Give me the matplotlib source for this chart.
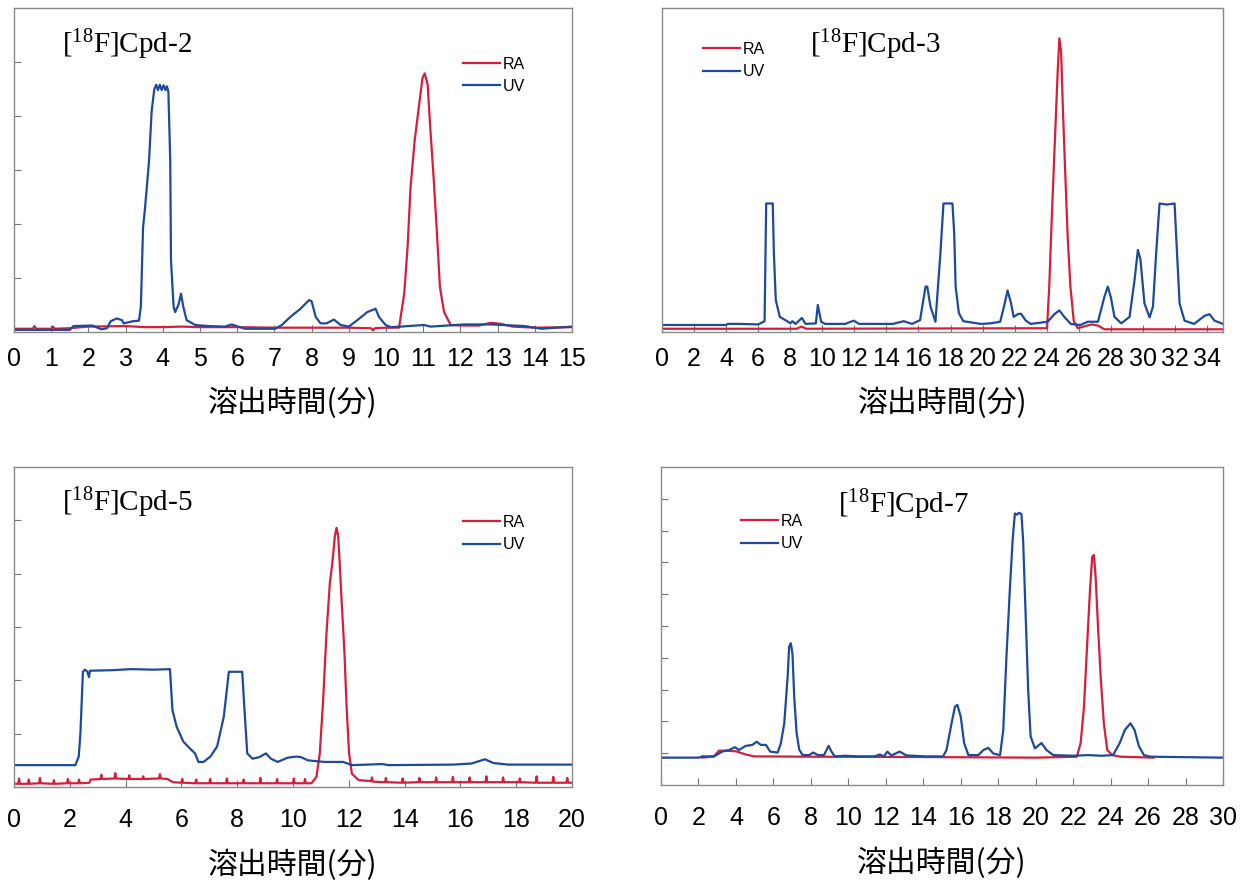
import numpy as np
import matplotlib
matplotlib.use("Agg")
import matplotlib.pyplot as plt

plt.rcParams['font.family'] = ['Liberation Sans', 'DejaVu Sans']
plt.rcParams['mathtext.default'] = 'regular'

RA_COLOR = '#d41f3c'
UV_COLOR = '#1d4a9a'

# ---------------- data: (time [min], signal [a.u.]) ----------------
# [18F]Cpd-2
cpd2_uv = [(0, 0.04), (1.5, 0.04), (1.6, 0.11), (2.1, 0.12), (2.35, 0.05), (2.5, 0.07), (2.6, 0.2),
           (2.76, 0.25), (2.9, 0.22), (2.95, 0.16), (3.2, 0.2), (3.36, 0.21), (3.41, 0.47), (3.47, 1.94),
           (3.52, 2.28), (3.57, 2.68), (3.63, 3.17), (3.70, 4.09), (3.77, 4.49), (3.82, 4.58), (3.87, 4.48),
           (3.92, 4.58), (3.97, 4.48), (4.02, 4.57), (4.07, 4.48), (4.11, 4.55), (4.15, 4.45), (4.20, 3.17),
           (4.22, 1.33), (4.29, 0.47), (4.33, 0.37), (4.42, 0.5), (4.49, 0.71), (4.55, 0.47), (4.64, 0.22),
           (4.87, 0.13), (5.22, 0.11), (5.67, 0.1), (5.85, 0.14), (6.03, 0.1), (6.21, 0.06), (7.02, 0.06),
           (7.2, 0.13), (7.43, 0.28), (7.70, 0.43), (7.93, 0.59), (8.0, 0.57), (8.11, 0.28), (8.24, 0.16),
           (8.4, 0.16), (8.6, 0.23), (8.78, 0.13), (9.0, 0.1), (9.23, 0.22), (9.5, 0.37), (9.72, 0.43),
           (9.81, 0.28), (9.99, 0.13), (10.13, 0.09), (10.4, 0.1), (11.02, 0.13), (11.2, 0.1), (11.65, 0.12),
           (12.1, 0.14), (12.82, 0.14), (13.72, 0.11), (14.17, 0.06), (15.0, 0.1)]
cpd2_ra = [(0, 0.06), (0.5, 0.06), (0.55, 0.11), (0.6, 0.06), (1.0, 0.06), (1.05, 0.1), (1.1, 0.06),
           (1.5, 0.07), (2.0, 0.1), (3.0, 0.11), (3.5, 0.09), (4.0, 0.09), (4.5, 0.1), (5.0, 0.09),
           (6.0, 0.09), (7.0, 0.08), (8.0, 0.08), (9.0, 0.08), (9.6, 0.07), (9.65, 0.03), (9.7, 0.07),
           (10.0, 0.08), (10.35, 0.08), (10.49, 0.71), (10.58, 1.57), (10.66, 2.68), (10.77, 3.54),
           (10.89, 4.21), (10.98, 4.70), (11.04, 4.79), (11.12, 4.58), (11.19, 3.78), (11.28, 2.86),
           (11.37, 1.82), (11.45, 0.83), (11.56, 0.37), (11.74, 0.13), (12.0, 0.12), (12.5, 0.12),
           (12.82, 0.17), (13.1, 0.15), (13.4, 0.1), (14.0, 0.08), (15.0, 0.09)]

# [18F]Cpd-3
cpd3_uv = [(0, 0.13), (4.0, 0.13), (4.1, 0.15), (4.9, 0.15), (6.0, 0.14), (6.4, 0.2), (6.5, 2.38),
           (6.91, 2.38), (6.98, 1.46), (7.1, 0.59), (7.35, 0.28), (7.87, 0.19), (8.0, 0.16), (8.13, 0.2),
           (8.33, 0.15), (8.73, 0.26), (8.95, 0.15), (9.6, 0.16), (9.72, 0.5), (9.93, 0.19), (10.18, 0.15),
           (11.43, 0.15), (11.96, 0.21), (12.3, 0.15), (14.4, 0.15), (15.08, 0.2), (15.6, 0.15), (16.1, 0.22),
           (16.44, 0.84), (16.55, 0.84), (16.75, 0.47), (17.06, 0.19), (17.37, 1.46), (17.56, 2.38),
           (18.12, 2.38), (18.23, 1.83), (18.32, 0.84), (18.52, 0.35), (18.8, 0.2), (19.9, 0.15),
           (20.5, 0.16), (21.1, 0.19), (21.39, 0.54), (21.56, 0.77), (21.77, 0.54), (21.94, 0.28),
           (22.2, 0.33), (22.39, 0.34), (22.7, 0.21), (23.0, 0.15), (24.06, 0.19), (24.48, 0.33),
           (24.79, 0.4), (25.1, 0.28), (25.5, 0.15), (26.1, 0.13), (26.56, 0.19), (27.2, 0.19),
           (27.6, 0.65), (27.81, 0.84), (28.0, 0.65), (28.23, 0.28), (28.65, 0.16), (29.17, 0.28),
           (29.48, 0.96), (29.69, 1.52), (29.85, 1.34), (30.1, 0.53), (30.42, 0.27), (30.63, 0.47),
           (30.83, 1.46), (31.04, 2.38), (31.5, 2.36), (31.98, 2.38), (32.08, 1.77), (32.29, 0.53),
           (32.6, 0.21), (33.2, 0.15), (33.85, 0.3), (34.16, 0.33), (34.47, 0.21), (35.0, 0.15)]
cpd3_ra = [(0, 0.06), (8.4, 0.06), (8.7, 0.1), (9.0, 0.06), (24.02, 0.07), (24.16, 0.84), (24.31, 2.07),
           (24.48, 3.31), (24.58, 4.05), (24.69, 4.85), (24.79, 5.44), (24.9, 5.19), (25.0, 4.23),
           (25.15, 3.0), (25.31, 1.76), (25.48, 0.84), (25.69, 0.2), (25.94, 0.07), (26.3, 0.1),
           (26.8, 0.14), (27.2, 0.12), (27.6, 0.05), (35.0, 0.05)]

# [18F]Cpd-5
cpd5_uv = [(0, 0.41), (2.2, 0.41), (2.32, 0.57), (2.38, 1.0), (2.47, 2.16), (2.54, 2.2), (2.62, 2.17),
           (2.69, 2.06), (2.72, 2.18), (3.5, 2.19), (4.2, 2.21), (5.0, 2.2), (5.59, 2.21), (5.68, 1.44),
           (5.83, 1.13), (6.07, 0.85), (6.31, 0.72), (6.49, 0.63), (6.61, 0.47), (6.79, 0.47), (7.04, 0.57),
           (7.28, 0.76), (7.52, 1.32), (7.70, 2.16), (8.18, 2.16), (8.24, 1.63), (8.36, 0.63), (8.55, 0.53),
           (8.79, 0.56), (9.03, 0.63), (9.21, 0.53), (9.45, 0.47), (9.81, 0.55), (10.12, 0.57),
           (10.29, 0.56), (10.53, 0.5), (11.13, 0.47), (11.8, 0.47), (12.11, 0.41), (13.2, 0.43),
           (13.43, 0.41), (15.73, 0.42), (16.4, 0.44), (16.88, 0.52), (17.18, 0.45), (17.7, 0.42), (20.0, 0.42)]
cpd5_ra = [(0, 0.06), (0.15, 0.06), (0.18, 0.16), (0.21, 0.06), (0.5, 0.06), (0.53, 0.14), (0.56, 0.06),
           (0.9, 0.07), (0.93, 0.17), (0.96, 0.07), (1.4, 0.06), (1.43, 0.13), (1.46, 0.06), (1.9, 0.07),
           (1.93, 0.15), (1.96, 0.07), (2.3, 0.07), (2.33, 0.14), (2.36, 0.07), (2.7, 0.08), (2.75, 0.14),
           (3.1, 0.15), (3.13, 0.23), (3.16, 0.15), (3.6, 0.16), (3.63, 0.26), (3.66, 0.16), (4.1, 0.15),
           (4.13, 0.22), (4.16, 0.15), (4.6, 0.15), (4.63, 0.2), (4.66, 0.15), (5.2, 0.16), (5.23, 0.24),
           (5.26, 0.16), (5.5, 0.15), (5.7, 0.09), (6.0, 0.08), (6.03, 0.15), (6.06, 0.08), (6.5, 0.07),
           (6.53, 0.14), (6.56, 0.07), (7.0, 0.07), (7.03, 0.15), (7.06, 0.07), (7.6, 0.07), (7.63, 0.16),
           (7.66, 0.07), (8.2, 0.07), (8.23, 0.14), (8.26, 0.07), (8.8, 0.07), (8.83, 0.17), (8.86, 0.07),
           (9.4, 0.07), (9.43, 0.15), (9.46, 0.07), (10.0, 0.07), (10.03, 0.16), (10.06, 0.07), (10.4, 0.07),
           (10.43, 0.15), (10.46, 0.07), (10.66, 0.07), (10.84, 0.19), (10.96, 0.63), (11.08, 1.63),
           (11.2, 2.88), (11.32, 3.82), (11.41, 4.2), (11.5, 4.7), (11.56, 4.86), (11.62, 4.7), (11.68, 4.14),
           (11.74, 3.51), (11.84, 2.57), (11.92, 1.51), (12.01, 0.63), (12.11, 0.25), (12.35, 0.13),
           (12.8, 0.11), (12.83, 0.18), (12.86, 0.1), (13.3, 0.09), (13.33, 0.17), (13.36, 0.09), (13.9, 0.08),
           (13.93, 0.16), (13.96, 0.08), (14.5, 0.09), (14.53, 0.17), (14.56, 0.09), (15.1, 0.09),
           (15.13, 0.18), (15.16, 0.09), (15.7, 0.09), (15.73, 0.19), (15.76, 0.09), (16.3, 0.09),
           (16.33, 0.18), (16.36, 0.09), (16.9, 0.09), (16.93, 0.2), (16.96, 0.09), (17.5, 0.09),
           (17.53, 0.18), (17.56, 0.09), (18.1, 0.09), (18.13, 0.16), (18.16, 0.09), (18.7, 0.08),
           (18.73, 0.2), (18.76, 0.08), (19.3, 0.08), (19.33, 0.19), (19.36, 0.08), (19.8, 0.08),
           (19.83, 0.17), (19.86, 0.08), (20.0, 0.08)]

# [18F]Cpd-7
cpd7_uv = [(0, 0.86), (2.03, 0.86), (2.2, 0.9), (2.83, 0.9), (3.27, 1.05), (3.63, 1.1), (3.95, 1.19),
           (4.16, 1.1), (4.52, 1.23), (4.87, 1.26), (5.11, 1.36), (5.33, 1.26), (5.6, 1.26), (5.83, 1.05),
           (6.23, 1.02), (6.4, 1.32), (6.58, 1.94), (6.76, 3.4), (6.84, 4.35), (6.93, 4.46), (7.02, 4.11),
           (7.11, 2.78), (7.24, 1.63), (7.38, 1.11), (7.56, 0.94), (7.9, 0.94), (8.12, 1.02), (8.39, 0.94),
           (8.7, 0.94), (8.95, 1.23), (9.1, 1.05), (9.28, 0.9), (9.81, 0.92), (10.52, 0.9), (11.41, 0.9),
           (11.68, 0.96), (11.9, 0.9), (12.08, 1.05), (12.3, 0.93), (12.74, 1.05), (13.1, 0.93), (14.08, 0.9),
           (15.06, 0.9), (15.24, 1.1), (15.51, 1.94), (15.69, 2.46), (15.82, 2.52), (16.0, 2.15), (16.18, 1.32),
           (16.41, 0.94), (16.94, 0.94), (17.21, 1.1), (17.47, 1.17), (17.74, 0.99), (18.1, 0.94), (18.27, 1.73),
           (18.44, 4.03), (18.62, 6.13), (18.77, 7.7), (18.89, 8.54), (19.0, 8.5), (19.1, 8.56), (19.24, 8.52),
           (19.33, 7.7), (19.48, 5.08), (19.6, 2.99), (19.73, 1.53), (19.96, 1.15), (20.31, 1.32), (20.58, 1.1),
           (20.94, 0.94), (22.0, 0.92), (22.8, 0.94), (23.5, 0.92), (24.13, 0.94), (24.49, 1.32), (24.76, 1.73),
           (25.06, 1.94), (25.28, 1.73), (25.51, 1.22), (25.78, 0.94), (26.13, 0.89), (30.0, 0.86)]
cpd7_ra = [(2.2, 0.86), (2.83, 0.9), (3.09, 1.08), (3.45, 1.08), (4.0, 1.06), (4.52, 0.96), (4.97, 0.9),
           (8.0, 0.89), (14.0, 0.88), (20.0, 0.86), (22.2, 0.89), (22.4, 1.32), (22.58, 2.46), (22.76, 4.56),
           (22.9, 6.13), (23.02, 7.18), (23.11, 7.23), (23.2, 6.55), (23.32, 5.08), (23.47, 3.4), (23.64, 1.94),
           (23.82, 1.1), (24.09, 0.94), (24.53, 0.89), (26.3, 0.86)]

titles = ['[$^{18}$F]Cpd-2', '[$^{18}$F]Cpd-3', '[$^{18}$F]Cpd-5', '[$^{18}$F]Cpd-7']
xmax = [15, 35, 20, 30]
xstep = [1, 2, 2, 2]
xlast = [15, 34, 20, 30]
ymax = [6, 6, 6, 10]
show_yticks = [True, False, True, True]
xlabel = '溶出時間(分)'

# ---------------- layout (figure fractions) ----------------
W, H = 1251, 885
boxes = [(14, 8, 572, 332), (662, 8, 1223, 332), (14, 467, 572, 787), (661, 467, 1223, 785)]
title_pos = [(0.086, 0.886), (0.264, 0.886), (0.086, 0.887), (0.315, 0.88)]
legend_pos = [(0.805, 0.85), (0.073, 0.895), (0.805, 0.85), (0.142, 0.852)]
tick_pad = [11, 11, 15, 15]
label_pad = [12, 12, 13, 13]

fig = plt.figure(figsize=(W / 100, H / 100), dpi=100)

traces = [(cpd2_ra, cpd2_uv), (cpd3_ra, cpd3_uv), (cpd5_ra, cpd5_uv), (cpd7_ra, cpd7_uv)]

for i, (ra, uv) in enumerate(traces):
    x0, y0, x1, y1 = boxes[i]
    ax = fig.add_axes([x0 / W, 1 - y1 / H, (x1 - x0) / W, (y1 - y0) / H])
    ra = np.array(ra)
    uv = np.array(uv)
    ax.plot(ra[:, 0], ra[:, 1], color=RA_COLOR, lw=1.6, label='RA')
    ax.plot(uv[:, 0], uv[:, 1], color=UV_COLOR, lw=1.6, label='UV')
    ax.set_xlim(0, xmax[i])
    ax.set_ylim(0, ymax[i])

    ax.set_xticks(np.arange(0, xlast[i] + 0.1, xstep[i]))
    ax.tick_params(axis='x', direction='in', length=5, width=0.8, color='#777777',
                   labelsize=18, pad=tick_pad[i])
    if show_yticks[i]:
        ax.set_yticks(np.arange(1, ymax[i]))
    else:
        ax.set_yticks([])
    ax.tick_params(axis='y', direction='in', length=5, width=0.8, color='#777777', labelleft=False)

    for s in ax.spines.values():
        s.set_color('#8a8a8a')
        s.set_linewidth(1.0)

    ax.set_xlabel(xlabel, family=['Noto Sans CJK JP', 'DejaVu Sans'], fontsize=21.5,
                  labelpad=label_pad[i])
    ax.text(title_pos[i][0], title_pos[i][1], titles[i], transform=ax.transAxes,
            family='Liberation Serif', fontsize=21, va='center', ha='left')
    ax.legend(loc='upper left', bbox_to_anchor=legend_pos[i], frameon=False, fontsize=11.5,
              handlelength=2.3, handletextpad=0.2, labelspacing=0.45, borderpad=0, borderaxespad=0)

fig.savefig('out.png', dpi=100, facecolor='white')
